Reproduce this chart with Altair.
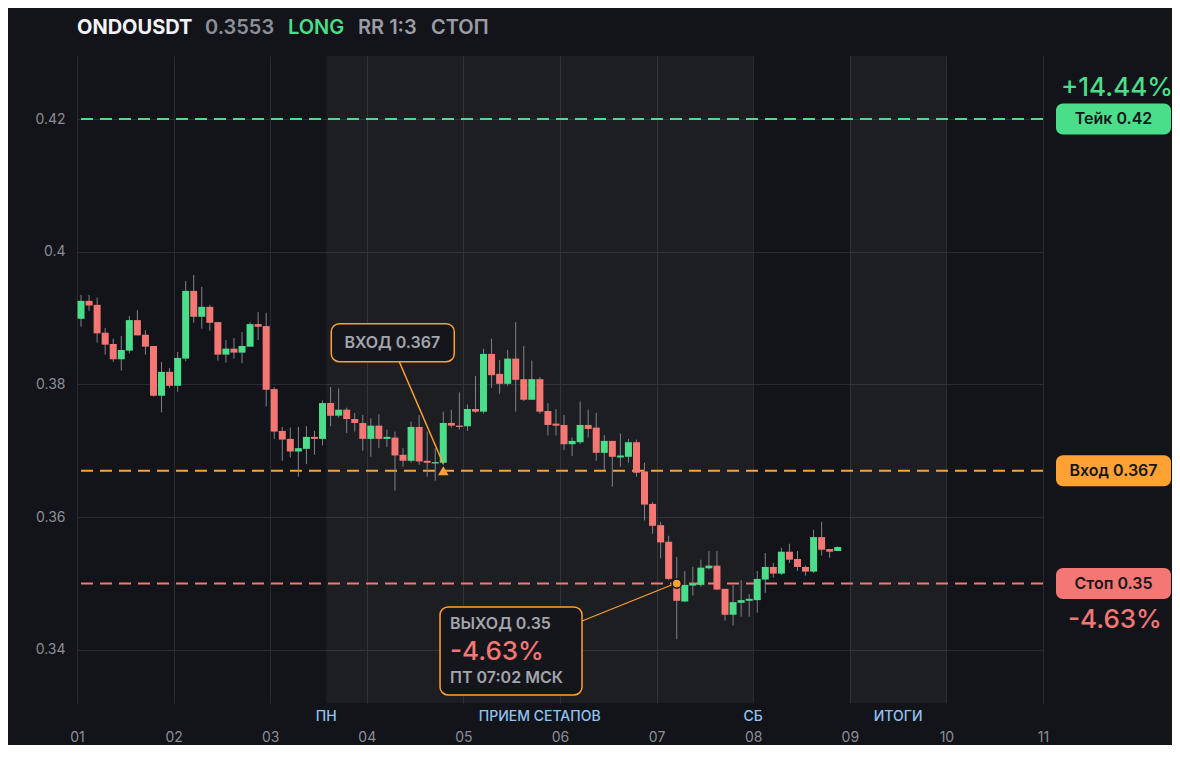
import altair as alt
import pandas as pd

# ---------------- data ----------------
opens = [0.3899, 0.3926, 0.3920, 0.3878, 0.3861, 0.3838, 0.3851, 0.3897, 0.3875, 0.3858,
         0.3783, 0.3819, 0.3798, 0.3839, 0.3941, 0.3902, 0.3917, 0.3894, 0.3845, 0.3854,
         0.3848, 0.3857, 0.3891, 0.3888, 0.3793, 0.3730, 0.3718, 0.3699, 0.3703, 0.3721,
         0.3718, 0.3772, 0.3753, 0.3762, 0.3748, 0.3742, 0.3718, 0.3738, 0.3718, 0.3720,
         0.3694, 0.3685, 0.3736, 0.3685, 0.3681, 0.3682, 0.3742, 0.3738, 0.3737, 0.3763,
         0.3759, 0.3846, 0.3816, 0.3801, 0.3839, 0.3808, 0.3777, 0.3808, 0.3760, 0.3741,
         0.3739, 0.3710, 0.3713, 0.3739, 0.3735, 0.3697, 0.3715, 0.3690, 0.3691, 0.3713,
         0.3669, 0.3620, 0.3588, 0.3563, 0.3499, 0.3473, 0.3497, 0.3498, 0.3523, 0.3527,
         0.3492, 0.3453, 0.3471, 0.3474, 0.3475, 0.3506, 0.3525, 0.3515, 0.3548, 0.3537,
         0.3525, 0.3518, 0.3570, 0.3552, 0.3549]
highs = [0.3935, 0.3935, 0.3931, 0.3885, 0.3869, 0.3873, 0.3903, 0.3912, 0.3882, 0.3858,
         0.3834, 0.3825, 0.3849, 0.3956, 0.3965, 0.3947, 0.3920, 0.3894, 0.3867, 0.3870,
         0.3879, 0.3894, 0.3909, 0.3908, 0.3796, 0.3736, 0.3735, 0.3736, 0.3737, 0.3730,
         0.3776, 0.3796, 0.3794, 0.3765, 0.3757, 0.3754, 0.3749, 0.3755, 0.3732, 0.3729,
         0.3704, 0.3744, 0.3754, 0.3729, 0.3704, 0.3759, 0.3762, 0.3788, 0.3770, 0.3813,
         0.3854, 0.3869, 0.3837, 0.3852, 0.3894, 0.3858, 0.3836, 0.3811, 0.3772, 0.3763,
         0.3754, 0.3720, 0.3774, 0.3762, 0.3757, 0.3724, 0.3715, 0.3726, 0.3718, 0.3717,
         0.3682, 0.3623, 0.3593, 0.3572, 0.3540, 0.3519, 0.3525, 0.3536, 0.3549, 0.3549,
         0.3492, 0.3498, 0.3505, 0.3484, 0.3519, 0.3546, 0.3531, 0.3554, 0.3560, 0.3549,
         0.3527, 0.3581, 0.3593, 0.3552, 0.3556]
lows = [0.3887, 0.3911, 0.3863, 0.3845, 0.3834, 0.3821, 0.3847, 0.3874, 0.3845, 0.3782,
        0.3758, 0.3795, 0.3789, 0.3835, 0.3893, 0.3884, 0.3881, 0.3836, 0.3833, 0.3839,
        0.3832, 0.3857, 0.3867, 0.3767, 0.3718, 0.3685, 0.3690, 0.3661, 0.3680, 0.3694,
        0.3708, 0.3737, 0.3750, 0.3727, 0.3729, 0.3700, 0.3691, 0.3704, 0.3706, 0.3640,
        0.3676, 0.3682, 0.3679, 0.3661, 0.3655, 0.3679, 0.3735, 0.3732, 0.3730, 0.3757,
        0.3756, 0.3795, 0.3786, 0.3798, 0.3759, 0.3775, 0.3777, 0.3756, 0.3723, 0.3723,
        0.3701, 0.3692, 0.3710, 0.3720, 0.3685, 0.3671, 0.3646, 0.3676, 0.3682, 0.3661,
        0.3595, 0.3575, 0.3538, 0.3505, 0.3416, 0.3472, 0.3482, 0.3495, 0.3521, 0.3490,
        0.3444, 0.3437, 0.3450, 0.3450, 0.3456, 0.3486, 0.3509, 0.3513, 0.3531, 0.3519,
        0.3512, 0.3516, 0.3542, 0.3539, 0.3549]
closes = [0.3926, 0.3919, 0.3877, 0.3860, 0.3838, 0.3852, 0.3897, 0.3874, 0.3857, 0.3783,
          0.3819, 0.3798, 0.3840, 0.3941, 0.3902, 0.3917, 0.3893, 0.3845, 0.3854, 0.3848,
          0.3858, 0.3891, 0.3887, 0.3792, 0.3729, 0.3717, 0.3699, 0.3704, 0.3721, 0.3718,
          0.3772, 0.3753, 0.3762, 0.3748, 0.3742, 0.3718, 0.3738, 0.3718, 0.3721, 0.3693,
          0.3685, 0.3736, 0.3684, 0.3682, 0.3683, 0.3742, 0.3738, 0.3736, 0.3763, 0.3759,
          0.3846, 0.3814, 0.3801, 0.3839, 0.3807, 0.3777, 0.3808, 0.3759, 0.3739, 0.3738,
          0.3710, 0.3715, 0.3739, 0.3733, 0.3697, 0.3715, 0.3691, 0.3693, 0.3713, 0.3667,
          0.3619, 0.3587, 0.3562, 0.3507, 0.3474, 0.3498, 0.3500, 0.3524, 0.3527, 0.3491,
          0.3453, 0.3472, 0.3475, 0.3477, 0.3507, 0.3525, 0.3515, 0.3548, 0.3536, 0.3525,
          0.3518, 0.3570, 0.3551, 0.3548, 0.3555]

CANDLES_PER_DAY = 12  # 2h candles, day axis 01..11
times = [1 + (i + 0.5) / CANDLES_PER_DAY for i in range(len(opens))]

x_ticks = list(range(1, 12))
y_ticks = [0.34, 0.36, 0.38, 0.40, 0.42]

band_starts = [3.58, 9.0]
band_ends = [8.0, 10.0]
session_labels = ["ПН", "ПРИЕМ СЕТАПОВ", "СБ", "ИТОГИ"]
session_pos = [3.58, 5.79, 8.0, 9.5]

level_names = ["Тейк 0.42", "Вход 0.367", "Стоп 0.35"]
level_prices = [0.42, 0.367, 0.35]

entry_text = "ВХОД 0.367"
entry_price = 0.367
entry_idx = 45
exit_texts = ["ВЫХОД 0.35", "-4.63%", "ПТ 07:02 МСК"]
exit_price = 0.35
exit_idx = 74
take_pct = "+14.44%"
stop_pct = "-4.63%"
title_parts = ["ONDOUSDT", "0.3553", "LONG", "RR 1:3", "СТОП"]

# ---------------- styles ----------------
BG = "#131419"
GRID = "#2a2b31"
GREEN = "#4ade8a"
RED = "#f47774"
ORANGE = "#ffa133"
WICK = "#80838b"
AXIS_TXT = "#8b8e96"
BOX_TXT = "#a3a6ad"
BLUE = "#8fc3f2"
FONT = "Inter"
W, H = 966, 647

xs = alt.Scale(domain=[1, 11], nice=False, zero=False, padding=0)
ys = alt.Scale(domain=[0.3320, 0.4295], nice=False, zero=False, padding=0)
x_axis = alt.Axis(values=x_ticks,
                  labelExpr="datum.value < 10 ? '0' + datum.value : '' + datum.value",
                  grid=True, gridColor=GRID, gridWidth=1, domain=False, ticks=False,
                  tickSize=0, labelPadding=27, labelColor=AXIS_TXT, labelFont=FONT,
                  labelFontSize=14, labelFlush=False, labelOverlap=False, title=None)
y_axis = alt.Axis(values=y_ticks, labelExpr="format(datum.value, '~g')",
                  grid=True, gridColor=GRID, gridWidth=1, domain=False, ticks=False,
                  tickSize=0, labelPadding=12, labelColor=AXIS_TXT, labelFont=FONT,
                  labelFontSize=14, labelFlush=False, title=None)


def X(f):
    return alt.X(f, type="quantitative", scale=xs, axis=x_axis)


def Y(f):
    return alt.Y(f, type="quantitative", scale=ys, axis=y_axis)


candles = pd.DataFrame({"t": times, "open": opens, "high": highs, "low": lows, "close": closes})
candles["dir"] = ["up" if c >= o else "down" for o, c in zip(opens, closes)]

bands = alt.Chart(pd.DataFrame({"s": band_starts, "e": band_ends})).mark_rect(
    fill="white", opacity=0.045).encode(x=X("s"), x2="e")

sessions = alt.Chart(pd.DataFrame({"p": session_pos, "l": session_labels})).mark_text(
    font=FONT, fontSize=14, fontWeight=500, color=BLUE, baseline="middle").encode(
    x=X("p"), y=alt.value(661), text="l:N")

layers = [bands, sessions]

level_colors = [GREEN, ORANGE, RED]
for name, price, col in zip(level_names, level_prices, level_colors):
    d = pd.DataFrame({"p": [price], "n": [name]})
    base = alt.Chart(d)
    layers.append(base.mark_rule(color=col, strokeWidth=2, strokeDash=[12, 7]).encode(y=Y("p")))
    layers.append(base.mark_rect(fill=col, cornerRadius=7, yOffset=-15.5, y2Offset=15.5).encode(
        x=alt.value(979), x2=alt.value(1094), y=Y("p"), y2="p"))
    layers.append(base.mark_text(font=FONT, fontSize=16, fontWeight=600, color="#16171b",
                                 baseline="middle", align="center").encode(
        x=alt.value(1036.5), y=Y("p"), text="n:N"))

pct = pd.DataFrame({"p": [level_prices[0]], "s": [take_pct]})
layers.append(alt.Chart(pct).mark_text(font=FONT, fontSize=26, fontWeight=500, color=GREEN,
                                       baseline="middle", align="center", dy=-31).encode(
    x=alt.value(1040), y=Y("p"), text="s:N"))
pct2 = pd.DataFrame({"p": [level_prices[2]], "s": [stop_pct]})
layers.append(alt.Chart(pct2).mark_text(font=FONT, fontSize=26, fontWeight=500, color=RED,
                                        baseline="middle", align="center", dy=36.5).encode(
    x=alt.value(1038), y=Y("p"), text="s:N"))

wicks = alt.Chart(candles).mark_rule(color=WICK, strokeWidth=1).encode(
    x=X("t"), y=Y("low"), y2="high")
bodies = alt.Chart(candles).mark_bar(size=7).encode(
    x=X("t"), y=Y("open"), y2="close",
    color=alt.Color("dir:N", scale=alt.Scale(domain=["up", "down"], range=[GREEN, RED]), legend=None))
layers += [wicks, bodies]

# entry annotation
ent = pd.DataFrame({"t": [times[entry_idx]], "p": [entry_price], "s": [entry_text]})
eb = alt.Chart(ent)
layers.append(eb.mark_rule(color=ORANGE, strokeWidth=1.5, xOffset=-44, yOffset=-109,
                           x2Offset=0, y2Offset=-7).encode(x=X("t"), x2="t", y=Y("p"), y2="p"))
layers.append(eb.mark_rect(fill="#15161b", stroke=ORANGE, strokeWidth=1.5, cornerRadius=8,
                           xOffset=-112, x2Offset=11, yOffset=-147, y2Offset=-109).encode(
    x=X("t"), x2="t", y=Y("p"), y2="p"))
layers.append(eb.mark_text(font=FONT, fontSize=16, fontWeight=600, color=BOX_TXT,
                           align="center", baseline="middle", dx=-51, dy=-128).encode(
    x=X("t"), y=Y("p"), text="s:N"))
layers.append(eb.mark_point(shape="triangle-up", filled=True, size=110, color=ORANGE, opacity=1).encode(
    x=X("t"), y=Y("p")))

# exit annotation
ex = pd.DataFrame({"t": [times[exit_idx]], "p": [exit_price]})
xb = alt.Chart(ex)
layers.append(xb.mark_rule(color=ORANGE, strokeWidth=1.2, xOffset=-94.7, yOffset=37.4,
                           x2Offset=-4, y2Offset=1).encode(x=X("t"), x2="t", y=Y("p"), y2="p"))
layers.append(xb.mark_rect(fill="#15161b", stroke=ORANGE, strokeWidth=1.5, cornerRadius=8,
                           xOffset=-236.7, x2Offset=-94.7, yOffset=23.4, y2Offset=111.4).encode(
    x=X("t"), x2="t", y=Y("p"), y2="p"))
exit_styles = [(16, 600, BOX_TXT, 40.5), (26, 500, RED, 68.5), (16, 600, BOX_TXT, 94.5)]
for txt, (fs, fw, col, dy) in zip(exit_texts, exit_styles):
    d = pd.DataFrame({"t": [times[exit_idx]], "p": [exit_price], "s": [txt]})
    layers.append(alt.Chart(d).mark_text(font=FONT, fontSize=fs, fontWeight=fw, color=col,
                                         align="left", baseline="middle", dx=-226.7, dy=dy).encode(
        x=X("t"), y=Y("p"), text="s:N"))
layers.append(xb.mark_circle(size=85, color=ORANGE, opacity=1, stroke=BG, strokeWidth=1.5).encode(
    x=X("t"), y=Y("p")))

# title pieces
title_x = [0, 128, 211, 281, 354]
title_col = ["#f2f3f5", "#8b8f98", GREEN, "#9a9da5", "#9a9da5"]
title_w = [700, 600, 600, 600, 600]
for txt, xv, col, fw in zip(title_parts, title_x, title_col, title_w):
    layers.append(alt.Chart(pd.DataFrame({"s": [txt]})).mark_text(
        font=FONT, fontSize=20, fontWeight=fw, color=col, align="left", baseline="middle").encode(
        x=alt.value(xv), y=alt.value(-28), text="s:N"))

chart = alt.layer(*layers).properties(
    width=W, height=H,
    padding={"left": 69, "top": 48, "right": 129, "bottom": 42},
    autosize=alt.AutoSizeParams(type="none"),
).configure(background=BG).configure_view(stroke=None)

chart.save("out.html", embed_options={"renderer": "svg", "actions": False})
